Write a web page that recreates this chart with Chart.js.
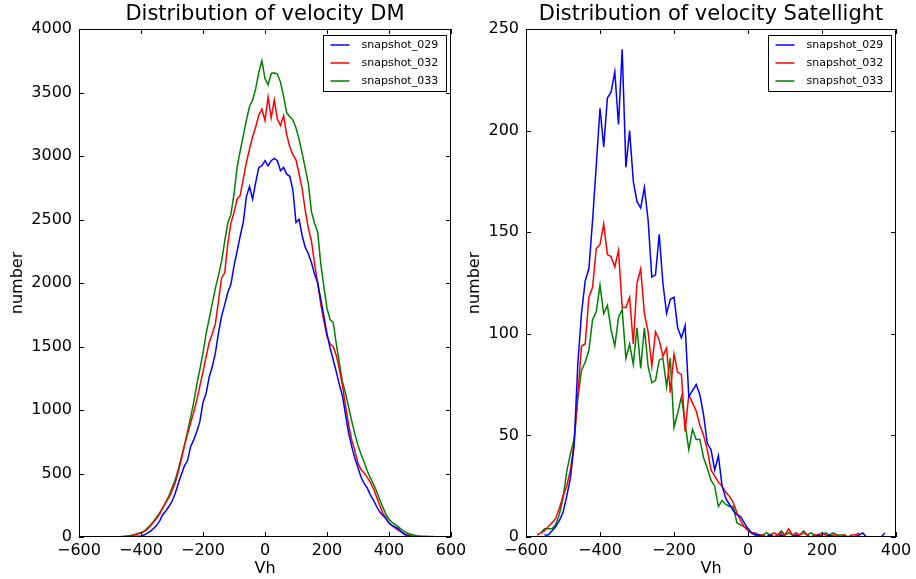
<!DOCTYPE html>
<html>
<head>
<meta charset="utf-8">
<script src="https://cdn.jsdelivr.net/npm/chart.js@4"></script>
<style>
html, body { margin: 0; padding: 0; background: #fff; }
#wrap { position: relative; width: 916px; height: 579px; overflow: hidden; background: #fff; }
canvas { position: absolute; top: 0; }
</style>
</head>
<body>
<div id="wrap">
  <canvas id="dm" width="471" height="579" style="left:0px"></canvas>
  <canvas id="sat" width="470" height="579" style="left:446px"></canvas>
</div>
<script>
// bin centres (Vh) and counts
const vhDM = [
  -500,-490,-480,-470,-460,-450,-440,-430,-420,-410,
  -400,-390,-380,-370,-360,-350,-340,-330,-320,-310,
  -300,-290,-280,-270,-260,-250,-240,-230,-220,-210,
  -200,-190,-180,-170,-160,-150,-140,-130,-120,-110,
  -100,-90,-80,-70,-60,-50,-40,-30,-20,-10,
  0,10,20,30,40,50,60,70,80,90,
  100,110,120,130,140,150,160,170,180,190,
  200,210,220,230,240,250,260,270,280,290,
  300,310,320,330,340,350,360,370,380,390,
  400,410,420,430,440,450,460,470,480,490,
  500,510,520,530,540,550
];
const dm029 = [
  null,null,null,null,null,null,0,2,4,6,
  8,15,28,45,66,90,125,175,205,240,
  280,340,420,490,560,600,711,765,830,910,
  1060,1130,1260,1340,1450,1607,1738,1830,1925,1990,
  2133,2250,2370,2480,2680,2760,2660,2790,2910,2923,
  2963,2923,2963,2981,2963,2884,2910,2857,2840,2730,
  2476,2502,2370,2280,2230,2160,2070,2000,1870,1738,
  1600,1490,1396,1300,1200,1110,960,817,710,620,
  545,470,420,385,330,290,240,198,170,145,
  110,92,78,66,40,20,12,5,null,null,
  null,null,null,null,null,null
];
const dm032 = [
  null,null,0,1,3,5,8,12,18,25,
  30,45,62,85,115,145,180,230,270,310,
  365,425,510,610,720,810,900,980,1080,1190,
  1300,1420,1530,1600,1680,1860,2040,2080,2310,2470,
  2555,2660,2690,2820,2950,3055,3150,3230,3320,3370,
  3280,3463,3300,3440,3290,3240,3318,3170,3070,3010,
  2970,2860,2740,2570,2430,2330,2150,2000,1830,1700,
  1580,1520,1500,1430,1320,1190,1030,880,760,680,
  580,530,505,470,430,380,316,250,190,150,
  110,90,70,52,40,25,15,10,6,4,
  2,null,null,null,null,null
];
const dm033 = [
  null,null,0,2,4,6,9,13,20,28,
  35,45,68,92,122,155,190,230,275,325,
  385,448,530,625,720,830,940,1060,1200,1320,
  1450,1600,1720,1840,1960,2060,2170,2330,2470,2540,
  2700,2910,3040,3160,3280,3390,3440,3530,3660,3750,
  3610,3560,3650,3655,3645,3580,3470,3340,3310,3285,
  3220,3130,3020,2900,2780,2560,2470,2400,2150,1970,
  1800,1712,1690,1520,1370,1220,1130,1020,910,810,
  720,650,590,520,465,415,360,295,235,180,
  140,115,98,80,60,42,30,22,15,10,
  8,6,5,4,3,2
];

const vhSat = [
  -580,-570,-560,-550,-540,-530,-520,-510,-500,-490,
  -480,-470,-460,-450,-440,-430,-420,-410,-400,-390,
  -380,-370,-360,-350,-340,-330,-320,-310,-300,-290,
  -280,-270,-260,-250,-240,-230,-220,-210,-200,-190,
  -180,-170,-160,-150,-140,-130,-120,-110,-100,-90,
  -80,-70,-60,-50,-40,-30,-20,-10,0,10,
  20,30,40,50,60,70,80,90,100,110,
  120,130,140,150,160,170,180,190,200,210,
  220,230,240,250,260,270,280,290,300,310,
  320,330,340,350,360,370,380
];
const sat029 = [
  null,null,null,1,1,3,5,8,12,20,
  29,45,85,110,126,132,156,183,211,192,
  216,219,229,203,240,182,200,175,165,162,
  172,156,128,129,149,125,110,117,118,103,
  98,104,69,72,75,70,60,46,43,33,
  40,25,19,16,13,11,10,7,4,2,
  1,1,0,0,1,0,0,1,0,0,
  0,1,0,0,0,0,0,1,0,0,
  1,0,0,0,0,0,0,0,1,2,
  0,0,0,0,0,2,null
];
const sat032 = [
  null,1,2,3,5,7,9,14,20,25,
  33,46,70,94,95,118,123,142,144,154,
  139,138,133,141,113,113,118,95,125,132,
  110,101,84,101,97,89,93,71,90,81,
  80,52,70,66,62,55,50,43,33,30,
  27,25,22,20,17,12,8,5,3,2,
  2,1,1,0,1,2,1,2,1,4,
  1,2,1,2,1,0,1,1,2,1,
  0,1,1,0,1,0,1,1,2,null,
  null,null,null,null,null,null,null
];
const sat033 = [
  null,null,2,4,4,4,6,11,19,32,
  41,48,68,82,86,92,107,111,124,110,
  114,102,94,108,112,88,95,85,103,83,
  103,84,76,77,87,88,74,88,54,61,
  69,56,43,53,48,48,39,34,28,25,
  15,18,16,15,15,7,6,5,4,2,
  1,1,1,2,1,0,1,3,1,2,
  1,0,1,3,1,2,1,0,1,2,
  1,2,1,1,1,0,null,null,null,null,
  null,null,null,null,null,null,null
];

const seriesNames = ["snapshot_029", "snapshot_032", "snapshot_033"];
const seriesColors = ["#0000ff", "#ff0000", "#008000"];

Chart.defaults.font.family = "'DejaVu Sans', sans-serif";
Chart.defaults.color = "#000";

// matplotlib-like frame with inward ticks on all four sides
const frameTicks = {
  id: "frameTicks",
  afterDatasetsDraw(chart) {
    const { ctx, chartArea: a, scales: { x, y } } = chart;
    ctx.save();
    ctx.strokeStyle = "#000";
    ctx.lineWidth = 1;
    ctx.beginPath();
    x.ticks.forEach(t => {
      const px = Math.round(x.getPixelForValue(t.value)) + 0.5;
      ctx.moveTo(px, a.bottom); ctx.lineTo(px, a.bottom - 5);
      ctx.moveTo(px, a.top); ctx.lineTo(px, a.top + 5);
    });
    y.ticks.forEach(t => {
      const py = Math.round(y.getPixelForValue(t.value)) + 0.5;
      ctx.moveTo(a.left, py); ctx.lineTo(a.left + 5, py);
      ctx.moveTo(a.right, py); ctx.lineTo(a.right - 5, py);
    });
    ctx.stroke();
    ctx.strokeRect(Math.round(a.left) + 0.5, Math.round(a.top) + 0.5,
      Math.round(a.right - a.left) - 1, Math.round(a.bottom - a.top) - 1);
    ctx.restore();
  }
};

// boxed legend in the top-right corner of the plot area
const boxLegend = {
  id: "boxLegend",
  afterDatasetsDraw(chart) {
    const { ctx, chartArea: a } = chart;
    const w = 123, h = 56;
    const left = Math.round(a.right - 5 - w) + 0.5;
    const top = Math.round(a.top + 6) + 0.5;
    ctx.save();
    ctx.fillStyle = "#fff";
    ctx.fillRect(left, top, w, h);
    ctx.strokeStyle = "#000";
    ctx.lineWidth = 1;
    ctx.strokeRect(left, top, w, h);
    ctx.font = "11px 'DejaVu Sans'";
    ctx.textBaseline = "middle";
    chart.data.datasets.forEach((ds, i) => {
      const yy = top + 9.5 + i * 18;
      ctx.strokeStyle = ds.borderColor;
      ctx.lineWidth = 1.5;
      ctx.beginPath();
      ctx.moveTo(left + 7, yy);
      ctx.lineTo(left + 26, yy);
      ctx.stroke();
      ctx.fillStyle = "#000";
      ctx.fillText(ds.label, left + 38, yy);
    });
    ctx.restore();
  }
};

function makePanel(canvasId, title, xs, ys, xMin, xMax, yMax, yStep, yWidth, yTitlePad) {
  new Chart(document.getElementById(canvasId), {
    type: "line",
    data: {
      datasets: ys.map((vals, i) => ({
        label: seriesNames[i],
        data: xs.map((x, j) => ({ x: x, y: vals[j] })),
        borderColor: seriesColors[i],
        borderWidth: 1.5,
        pointRadius: 0,
        tension: 0,
        fill: false
      }))
    },
    options: {
      responsive: false,
      animation: false,
      devicePixelRatio: 1,
      layout: { padding: { left: 0, right: 20, top: 0, bottom: 0 } },
      scales: {
        x: {
          type: "linear",
          min: xMin,
          max: xMax,
          grid: { display: false, drawTicks: false },
          border: { display: false },
          ticks: {
            stepSize: 200,
            padding: 4,
            maxRotation: 0,
            autoSkip: false,
            font: { size: 16 },
            callback: v => String(v).replace("-", "\u2212")
          },
          title: { display: true, text: "Vh", font: { size: 16 }, padding: { top: 0, bottom: 1 } },
          afterFit: s => { s.height = 42; }
        },
        y: {
          min: 0,
          max: yMax,
          grid: { display: false, drawTicks: false },
          border: { display: false },
          ticks: {
            stepSize: yStep,
            padding: 7,
            font: { size: 16 },
            callback: v => String(v)
          },
          title: { display: true, text: "number", font: { size: 16 }, padding: { top: yTitlePad, bottom: 0 } },
          afterFit: s => { s.width = yWidth; }
        }
      },
      plugins: {
        legend: { display: false },
        tooltip: { enabled: false },
        title: {
          display: true,
          fullSize: false,
          text: title,
          color: "#000",
          font: { size: 21, weight: "normal" },
          padding: { top: 2, bottom: 1.8 }
        }
      }
    },
    plugins: [frameTicks, boxLegend]
  });
}

makePanel("dm", "Distribution of velocity DM", vhDM, [dm029, dm032, dm033],
  -600, 600, 4000, 500, 79, 8);
makePanel("sat", "Distribution of velocity Satellight", vhSat, [sat029, sat032, sat033],
  -600, 400, 250, 50, 80, 19);
</script>
</body>
</html>
